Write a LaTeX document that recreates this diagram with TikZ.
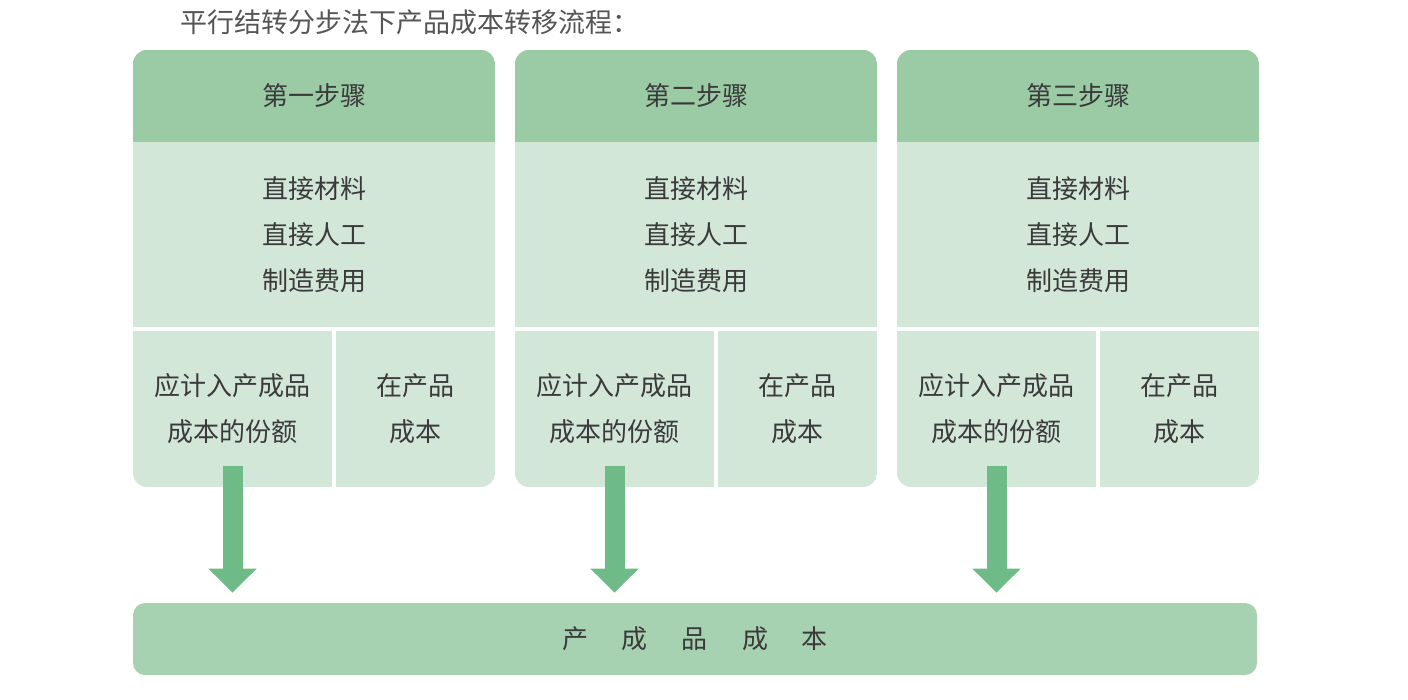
\documentclass[tikz,border=0pt]{standalone}
\usepackage{fontspec}
\setmainfont{Noto Sans CJK SC}
\usetikzlibrary{arrows.meta}
\definecolor{hdr}{HTML}{9BCBA5}
\definecolor{light}{HTML}{D3E7D8}
\definecolor{arr}{HTML}{6EBB87}
\definecolor{barc}{HTML}{A7D2B1}
\definecolor{txt}{HTML}{3A3A3A}
\definecolor{ttl}{HTML}{555555}
\tikzset{
  lbl/.style={inner sep=0pt, text=txt, font=\fontsize{13pt}{23pt}\selectfont, align=center},
  bigarrow/.style={draw=arr, line width=10pt, -{Triangle[width=23.5pt,length=12pt]}},
}
\begin{document}
\begin{tikzpicture}[x=0.5pt,y=-0.5pt]
\useasboundingbox (0,0) rectangle (1408,700);
\node[inner sep=0pt, text=ttl, font=\fontsize{13.5pt}{16pt}\selectfont] (title) at (410,22) {平行结转分步法下产品成本转移流程：};
\foreach \x/\sn [count=\i] in {133/一,515/二,897/三} {
  \begin{scope}
    \clip[rounded corners=7pt] (\x,50) rectangle ++(362,437);
    \fill[light] (\x,50) rectangle ++(362,437);
    \fill[hdr] (\x,50) rectangle ++(362,92);
    \fill[white] (\x,327) rectangle ++(362,4);
    \fill[white] (\x+199,331) rectangle ++(4,156);
  \end{scope}
  \node[lbl] (h\i) at (\x+181,96) {第{\sn}步骤};
  \node[lbl, minimum width=181pt, minimum height=92.5pt] (m\i) at (\x+181,235) {直接材料\\直接人工\\制造费用};
  \node[lbl, minimum width=99.5pt, minimum height=78pt] (cl\i) at (\x+99.5,409) {应计入产成品\\成本的份额};
  \node[lbl, minimum width=79.5pt, minimum height=78pt] (cr\i) at (\x+282.5,409) {在产品\\成本};
}
\node[fill=barc, rounded corners=6pt, minimum width=562pt, minimum height=36pt, inner sep=0pt, text=txt, font=\fontsize{13pt}{16pt}\selectfont] (bar) at (695,639) {产\hspace{17pt}成\hspace{17pt}品\hspace{17pt}成\hspace{17pt}本};
\foreach \i in {1,2,3} {
  \draw[bigarrow] ([yshift=10.5pt]cl\i.south) -- ([yshift=5pt]cl\i.south |- bar.north);
}
\end{tikzpicture}
\end{document}
